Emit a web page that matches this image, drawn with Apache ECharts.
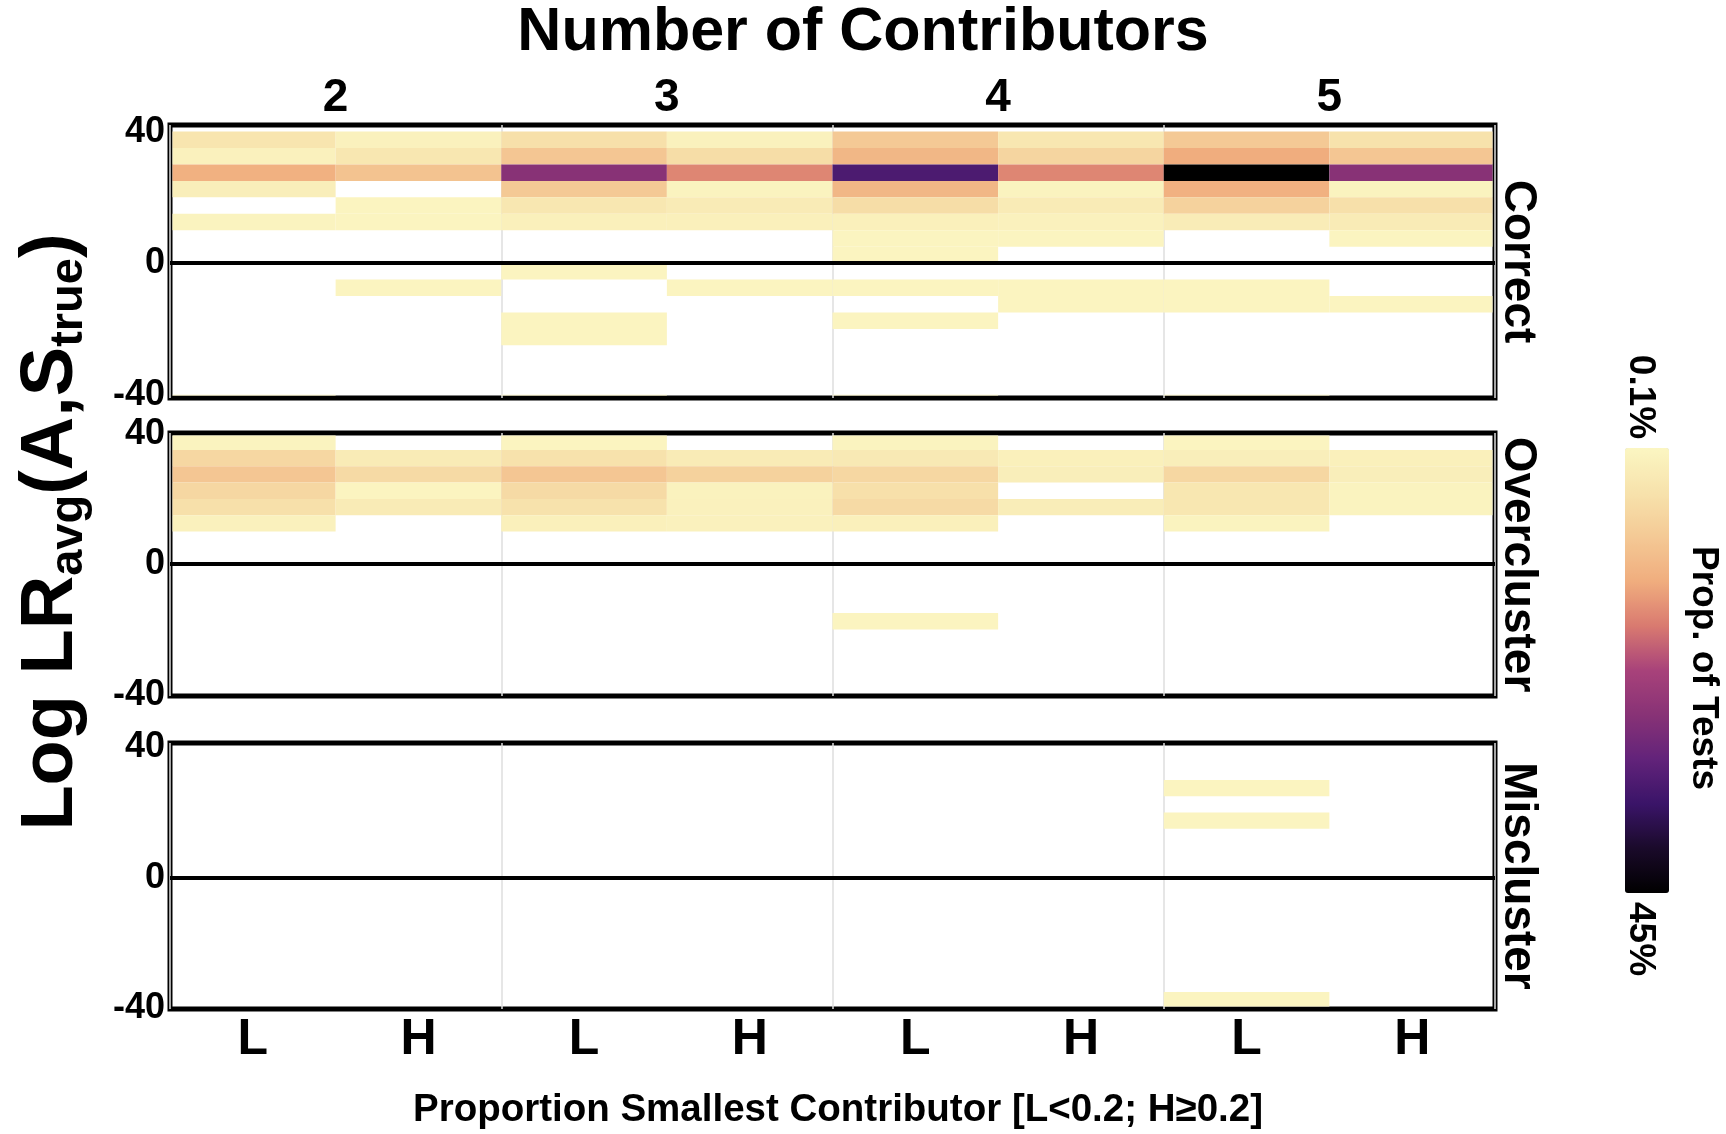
<!DOCTYPE html>
<html>
<head>
<meta charset="utf-8">
<script src="https://cdn.jsdelivr.net/npm/echarts@6/dist/echarts.min.js"></script>
<style>
  html, body { margin: 0; padding: 0; background: #ffffff; }
  #chart { width: 1726px; height: 1134px; }
</style>
</head>
<body>
<div id="chart"></div>
<script>
// ---- data -------------------------------------------------------------
const columnLabels = ['L', 'H', 'L', 'H', 'L', 'H', 'L', 'H'];
const contributorLabels = ['2', '3', '4', '5'];
const panelNames = ['Correct', 'Overcluster', 'Miscluster'];
const yTickValues = [-40, 0, 40];
const binWidth = 5;            // width of a Log LR bin
const propRange = [0.1, 45];   // colour scale limits, % of tests

// [column index, bin centre (Log LR), % of tests]
const correctCells = [
  [0, 37.5, 4], [0, 32.5, 1.2], [0, 27.5, 13], [0, 22.5, 1.8], [0, 12.5, 0.8], [0, -42.5, 0.5],
  [1, 37.5, 1.2], [1, 32.5, 3.5], [1, 27.5, 10], [1, 17.5, 0.6], [1, 12.5, 0.6], [1, -7.5, 0.5],
  [2, 37.5, 5], [2, 32.5, 9.5], [2, 27.5, 27], [2, 22.5, 9], [2, 17.5, 3.5], [2, 12.5, 1.5],
  [2, -2.5, 0.5], [2, -17.5, 0.5], [2, -22.5, 0.5], [2, -42.5, 0.5],
  [3, 37.5, 1.2], [3, 32.5, 5.5], [3, 27.5, 17], [3, 22.5, 0.8], [3, 17.5, 2.5], [3, 12.5, 1.5], [3, -7.5, 0.5],
  [4, 37.5, 9], [4, 32.5, 12], [4, 27.5, 34], [4, 22.5, 12], [4, 17.5, 5.5], [4, 12.5, 1.5],
  [4, 7.5, 0.6], [4, 2.5, 0.6], [4, -7.5, 0.5], [4, -17.5, 0.5], [4, -42.5, 0.5],
  [5, 37.5, 3.5], [5, 32.5, 7], [5, 27.5, 17], [5, 22.5, 0.8], [5, 17.5, 2.5], [5, 12.5, 1.2],
  [5, 7.5, 0.6], [5, -7.5, 0.5], [5, -12.5, 0.5],
  [6, 37.5, 9], [6, 32.5, 13.5], [6, 27.5, 45], [6, 22.5, 13], [6, 17.5, 7.5], [6, 12.5, 2.3],
  [6, -7.5, 0.5], [6, -12.5, 0.5], [6, -42.5, 0.5],
  [7, 37.5, 4.5], [7, 32.5, 9.5], [7, 27.5, 27], [7, 22.5, 0.8], [7, 17.5, 5], [7, 12.5, 2.5],
  [7, 7.5, 0.6], [7, -12.5, 0.5]
];

const overclusterCells = [
  [0, 37.5, 0.8], [0, 32.5, 6.5], [0, 27.5, 9.5], [0, 22.5, 6.5], [0, 17.5, 5], [0, 12.5, 1.2],
  [1, 32.5, 2.5], [1, 27.5, 6], [1, 22.5, 0.6], [1, 17.5, 2.5],
  [2, 37.5, 0.6], [2, 32.5, 4.5], [2, 27.5, 9.5], [2, 22.5, 6], [2, 17.5, 4.5], [2, 12.5, 1.5],
  [3, 32.5, 2.5], [3, 27.5, 7.5], [3, 22.5, 1], [3, 17.5, 1.2], [3, 12.5, 1.2],
  [4, 37.5, 0.8], [4, 32.5, 3], [4, 27.5, 6.5], [4, 22.5, 5], [4, 17.5, 6], [4, 12.5, 1.5], [4, -17.5, 0.5],
  [5, 32.5, 1.5], [5, 27.5, 1.8], [5, 17.5, 2.2],
  [6, 37.5, 0.6], [6, 32.5, 1.8], [6, 27.5, 6.5], [6, 22.5, 3.5], [6, 17.5, 3.5], [6, 12.5, 0.8],
  [7, 32.5, 1.5], [7, 27.5, 1.8], [7, 22.5, 0.8], [7, 17.5, 0.8]
];

const misclusterCells = [
  [6, 27.5, 0.5], [6, 17.5, 0.5], [6, -37.5, 0.5]
];

// ---- layout & style ---------------------------------------------------
const FONT = '"Liberation Sans", Arial, Helvetica, sans-serif';
const panels = [
  { cells: correctCells,     top: 125, height: 273, yMin: -41,   yMax: 42 },
  { cells: overclusterCells, top: 433, height: 263, yMin: -40.4, yMax: 40.2 },
  { cells: misclusterCells,  top: 743, height: 266, yMin: -40.2, yMax: 41.3 }
];
const GRID_LEFT = 170, GRID_RIGHT = 1726 - 1495;
const BORDER = 5;

// reversed magma-like ramp: pale yellow (low) -> black (high)
const rampColors = ['#fbf6c2', '#f7e2ac', '#f4c995', '#f0ad7e', '#d97a70', '#a8427a',
                    '#883276', '#62237a', '#3a1468', '#1a0a2a', '#000000'];

function renderCell(params, api) {
  const col = api.value(0);
  const bin = api.value(1);
  const p0 = api.coord([col, bin + binWidth / 2]);
  const p1 = api.coord([col + 1, bin - binWidth / 2]);
  const cs = params.coordSys;
  const shape = echarts.graphic.clipRectByRect(
    { x: p0[0], y: p0[1], width: p1[0] - p0[0], height: p1[1] - p0[1] },
    { x: cs.x + BORDER / 2, y: cs.y + BORDER / 2, width: cs.width - BORDER, height: cs.height - BORDER }
  );
  if (!shape) return null;
  return { type: 'rect', shape: shape, style: { fill: api.visual('color') } };
}

const grids = [], xAxes = [], yAxes = [], series = [];
panels.forEach(function (p, i) {
  grids.push({
    left: GRID_LEFT, right: GRID_RIGHT, top: p.top, height: p.height,
    show: true, borderColor: '#000', borderWidth: BORDER, backgroundColor: 'transparent'
  });
  const isTop = i === 0, isBottom = i === panels.length - 1;
  xAxes.push({
    type: 'value', gridIndex: i, min: 0, max: columnLabels.length, interval: 2,
    position: isTop ? 'top' : 'bottom',
    axisLine: { show: false }, axisTick: { show: false },
    splitLine: { show: true, lineStyle: { color: '#dedede', width: 1.5 } },
    axisLabel: isTop ? {
      show: true, customValues: contributorLabels.map(function (_, k) { return 2 * k + 1; }),
      formatter: function (v) { return contributorLabels[(v - 1) / 2]; },
      fontFamily: FONT, fontWeight: 'bold', fontSize: 46, color: '#000', margin: 4
    } : isBottom ? {
      show: true, customValues: columnLabels.map(function (_, k) { return k + 0.5; }),
      formatter: function (v) { return columnLabels[Math.floor(v)]; },
      fontFamily: FONT, fontWeight: 'bold', fontSize: 50, color: '#000', margin: 6
    } : { show: false }
  });
  yAxes.push({
    type: 'value', gridIndex: i, min: p.yMin, max: p.yMax,
    axisLine: { show: false }, axisTick: { show: false }, splitLine: { show: false },
    axisLabel: {
      customValues: yTickValues, formatter: function (v) { return String(v); },
      fontFamily: FONT, fontWeight: 'bold', fontSize: 36, color: '#000', margin: 5
    }
  });
  series.push({
    type: 'custom', name: panelNames[i], xAxisIndex: i, yAxisIndex: i,
    renderItem: renderCell, encode: { x: 0, y: 1 }, data: p.cells, silent: true,
    markLine: {
      silent: true, symbol: ['none', 'none'], label: { show: false },
      lineStyle: { color: '#000', width: 4, type: 'solid' },
      data: [{ yAxis: 0 }], animation: false
    }
  });
});

// ---- text furniture ---------------------------------------------------
const graphics = [
  { type: 'text', x: 863, y: 33, style: { text: 'Number of Contributors', font: 'bold 61px ' + FONT, fill: '#000', align: 'center', verticalAlign: 'middle' } },
  { type: 'text', x: 838, y: 1110, style: { text: 'Proportion Smallest Contributor [L<0.2; H\u22650.2]', font: 'bold 38.5px ' + FONT, fill: '#000', align: 'center', verticalAlign: 'middle' } },
  {
    type: 'text', x: 52, y: 532, rotation: Math.PI / 2,
    style: {
      text: '{m|Log LR}{s|avg}{m|(A,S}{s|true}{m|)}', align: 'center', verticalAlign: 'middle', fill: '#000',
      rich: {
        m: { fontFamily: FONT, fontWeight: 'bold', fontSize: 74, lineHeight: 82, fill: '#000' },
        s: { fontFamily: FONT, fontWeight: 'bold', fontSize: 47, lineHeight: 36, verticalAlign: 'bottom', fill: '#000' }
      }
    }
  },
  { type: 'text', x: 1640, y: 397, rotation: -Math.PI / 2, style: { text: '0.1%', font: 'bold 37px ' + FONT, fill: '#000', align: 'center', verticalAlign: 'middle' } },
  { type: 'text', x: 1640, y: 939, rotation: -Math.PI / 2, style: { text: '45%', font: 'bold 37px ' + FONT, fill: '#000', align: 'center', verticalAlign: 'middle' } },
  { type: 'text', x: 1703, y: 668, rotation: -Math.PI / 2, style: { text: 'Prop. of Tests', font: 'bold 37px ' + FONT, fill: '#000', align: 'center', verticalAlign: 'middle' } }
];
panels.forEach(function (p, i) {
  graphics.push({
    type: 'text', x: 1518, y: p.top + p.height / 2, rotation: -Math.PI / 2,
    style: { text: panelNames[i], font: 'bold 46px ' + FONT, fill: '#000', align: 'center', verticalAlign: 'middle' }
  });
});

const chart = echarts.init(document.getElementById('chart'), null, { renderer: 'canvas' });
chart.setOption({
  animation: false,
  backgroundColor: '#ffffff',
  grid: grids,
  xAxis: xAxes,
  yAxis: yAxes,
  visualMap: {
    type: 'continuous', min: propRange[0], max: propRange[1], dimension: 2,
    seriesIndex: [0, 1, 2], inverse: true, calculable: false, hoverLink: false,
    orient: 'vertical', left: 1610, top: 433, itemWidth: 44, itemHeight: 445,
    inRange: { color: rampColors }, text: null, showLabel: false
  },
  graphic: graphics,
  series: series
});
</script>
</body>
</html>
